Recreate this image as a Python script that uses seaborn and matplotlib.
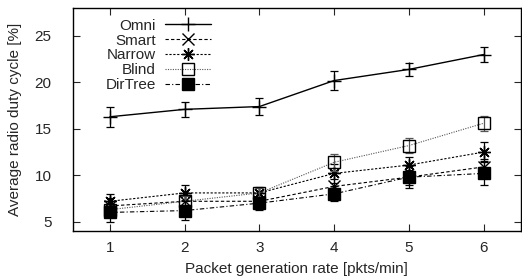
import numpy as np
import pandas as pd
import matplotlib
matplotlib.use("Agg")
import matplotlib.pyplot as plt
import seaborn as sns

rates = [1, 2, 3, 4, 5, 6]
omni = [16.3, 17.1, 17.4, 20.2, 21.4, 23.0]
omni_err = [1.1, 0.8, 0.9, 1.0, 0.7, 0.8]
smart = [6.7, 7.2, 7.2, 8.8, 9.8, 10.9]
smart_err = [0.8, 0.7, 0.5, 0.8, 0.8, 0.8]
narrow = [7.2, 8.1, 8.1, 10.2, 11.1, 12.5]
narrow_err = [0.8, 0.8, 0.6, 1.0, 0.9, 1.1]
blind = [6.3, 7.2, 8.1, 11.4, 13.2, 15.6]
blind_err = [0.6, 0.6, 0.5, 0.9, 0.8, 0.8]
dirtree = [6.0, 6.2, 7.0, 8.0, 9.8, 10.2]
dirtree_err = [1.0, 1.0, 0.7, 0.8, 1.2, 1.3]

sns.set_style("ticks")
plt.rcParams['font.family'] = ['Liberation Sans', 'DejaVu Sans']
plt.rcParams['font.size'] = 11

# name, values, errors, linestyle, marker, facecolor, line colour, line width, marker size
series = [
    ("Omni", omni, omni_err, '-', '+', 'black', 'black', 1.0, 10),
    ("Smart", smart, smart_err, (0, (3, 2)), 'x', 'black', 'black', 0.8, 8),
    ("Narrow", narrow, narrow_err, (0, (2, 1.5)), (8, 2, 0), 'black', 'black', 0.8, 9),
    ("Blind", blind, blind_err, (0, (1, 1.2)), 's', 'none', '#555555', 0.8, 8),
    ("DirTree", dirtree, dirtree_err, (0, (4, 2, 1, 2)), 's', 'black', 'black', 0.8, 8),
]

fig = plt.figure(figsize=(5.22, 2.8), dpi=100)
ax = fig.add_axes([0.139, 0.175, 0.859, 0.796])

for name, vals, errs, ls, mk, fc, lc, lw, ms in series:
    df = pd.DataFrame({"rate": rates, "duty": vals})
    ax.errorbar(rates, vals, yerr=errs, fmt='none', ecolor=lc, elinewidth=0.9,
                capsize=3, capthick=0.9, linestyle=':' if name != "Omni" else '-')
    sns.lineplot(data=df, x="rate", y="duty", ax=ax, color=lc, linestyle=ls,
                 linewidth=lw, marker=mk, markersize=ms,
                 markerfacecolor=fc, markeredgecolor='black', markeredgewidth=1.0,
                 label=name)

ax.set_xlim(0.5, 6.5)
ax.set_ylim(4, 28)
ax.set_xticks(rates)
ax.set_yticks([5, 10, 15, 20, 25])
ax.tick_params(direction='in', top=True, right=True, length=5, width=0.8)
ax.tick_params(axis='x', pad=7)
ax.tick_params(axis='y', pad=15)
for s in ax.spines.values():
    s.set_linewidth(1.0)
    s.set_color('black')
ax.set_xlabel("Packet generation rate [pkts/min]", labelpad=5)
ax.set_ylabel("Average radio duty cycle [%]", labelpad=9)

leg = ax.legend(loc='upper left', markerfirst=False, frameon=False,
                handlelength=3.0, labelspacing=0.05, borderaxespad=0.3,
                handletextpad=0.6, bbox_to_anchor=(0.05, 1.0))

plt.savefig("out.png", dpi=100)
